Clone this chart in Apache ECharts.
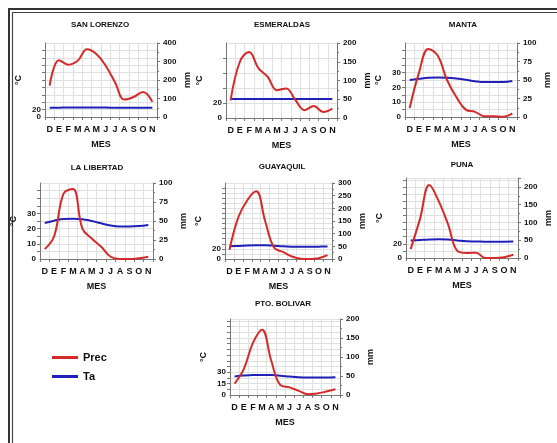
<!DOCTYPE html>
<html>
<head>
<meta charset="utf-8">
<script src="https://cdn.jsdelivr.net/npm/echarts@6/dist/echarts.min.js"></script>
<style>
html,body{margin:0;padding:0;background:#fff;}
#c{width:557px;height:443px;}
</style>
</head>
<body>
<div id="c"></div>
<script>
// ---- data ----
const MONTHS = ['D','E','F','M','A','M','J','J','A','S','O','N'];
const STATIONS = ['SAN LORENZO','ESMERALDAS','MANTA','LA LIBERTAD','GUAYAQUIL','PUNA','PTO. BOLIVAR'];

const precSanLorenzo = [170, 307, 283, 304, 366, 340, 277, 188, 94, 108, 135, 82];
const precEsmeraldas = [47, 150, 176, 133, 110, 74, 79, 48, 21, 32, 16, 25];
const precManta      = [12, 60, 92, 83, 50, 27, 10, 7, 1, 1, 0.5, 5];
const precLaLibertad = [13, 30, 86, 92, 40, 27, 16, 3, 0, 0, 1, 3];
const precGuayaquil  = [36, 165, 232, 267, 150, 45, 28, 10, 1, 0, 3, 15];
const precPuna       = [25, 110, 205, 160, 95, 20, 14, 15, 0, 0, 2, 9];
const precPtoBolivar = [30, 68, 137, 172, 90, 26, 20, 11, 2, 4, 9, 15];

const taSanLorenzo = [25.0, 25.2, 25.6, 25.6, 25.6, 25.6, 25.4, 25.2, 25.0, 25.0, 25.0, 25.0];
const taEsmeraldas = [25.4, 25.4, 25.4, 25.5, 25.5, 25.4, 25.4, 25.3, 25.3, 25.3, 25.3, 25.3];
const taManta      = [25.0, 25.8, 26.5, 26.7, 26.5, 26.0, 25.2, 24.2, 23.6, 23.6, 23.7, 24.4];
const taLaLibertad = [23.7, 25.2, 26.3, 26.4, 26.2, 25.0, 23.5, 22.0, 21.4, 21.4, 21.7, 22.4];
const taGuayaquil  = [25.0, 25.8, 26.8, 27.0, 27.0, 26.2, 25.0, 24.4, 24.2, 24.2, 24.4, 24.8];
const taPuna       = [24.6, 25.3, 26.0, 26.4, 26.0, 24.6, 23.4, 23.2, 23.0, 23.0, 23.0, 23.2];
const taPtoBolivar = [24.5, 25.5, 26.2, 26.4, 26.2, 25.4, 24.2, 23.2, 22.9, 22.9, 23.0, 23.4];

const PREC = [precSanLorenzo, precEsmeraldas, precManta, precLaLibertad, precGuayaquil, precPuna, precPtoBolivar];
const TA   = [taSanLorenzo, taEsmeraldas, taManta, taLaLibertad, taGuayaquil, taPuna, taPtoBolivar];

// axis ticks
const MM_MAX  = [400, 200, 100, 100, 300, 225, 200];
const MM_STEP = [100, 50, 25, 25, 50, 50, 50];
const C_STEP  = [20, 20, 5, 5, 10, 10, 7.5];
const C_LABELS = [[0,20],[0,20],[0,10,20,30],[0,10,20,30],[0,20],[0,20],[0,15,30]];

// ---- layout ----
const GRIDS = [
  {left:45,  top:43,  width:112, height:74},
  {left:226, top:43,  width:111, height:75},
  {left:405, top:43,  width:112, height:74},
  {left:40,  top:183, width:113, height:76},
  {left:225, top:183, width:107, height:76},
  {left:406, top:178, width:112, height:80},
  {left:230, top:319, width:110, height:76}
];
const TITLE_POS = [[100,25],[282,25],[463,25],[97,168],[282,167],[462,165],[283,304]];

const FONT = "'Liberation Sans', Arial, sans-serif";
const RED = '#d62a2a', BLUE = '#2020b8', AX = '#777', GRID = '#e0e0e0';
const LBL = {fontSize:8, fontWeight:'bold', color:'#111', fontFamily:FONT};

const xAxes = [], yAxes = [], series = [], graphics = [];
GRIDS.forEach((g, i) => {
  xAxes.push({
    type:'category', gridIndex:i, data:MONTHS, boundaryGap:true,
    axisLine:{lineStyle:{color:AX, width:1}},
    axisTick:{show:true, length:3, lineStyle:{color:AX}},
    axisLabel:{interval:0, fontSize:9, fontWeight:'bold', color:'#111', fontFamily:FONT, margin:8},
    splitLine:{show:true, lineStyle:{color:GRID, width:1}},
    name:'MES', nameLocation:'middle', nameGap:23,
    nameTextStyle:{fontSize:9, fontWeight:'bold', color:'#111', fontFamily:FONT}
  });
  const labs = C_LABELS[i].filter(v => v !== 0);
  const cMax = MM_MAX[i] / 2;
  // main temperature axis (labels above zero)
  yAxes.push({
    type:'value', gridIndex:i, position:'left', min:0, max:cMax, interval:C_STEP[i],
    axisLine:{show:true, lineStyle:{color:AX}},
    axisTick:{show:true, length:3, lineStyle:{color:AX}},
    axisLabel:Object.assign({margin:4, showMinLabel:false, showMaxLabel:false,
      formatter:v => labs.some(l => Math.abs(l - v) < 1e-6) ? String(v) : ''}, LBL),
    splitLine:{show:true, lineStyle:{color:GRID, width:1}},
    name:'°C', nameLocation:'middle', nameGap:22, nameRotate:90,
    nameTextStyle:{fontSize:9, fontWeight:'bold', color:'#111', fontFamily:FONT}
  });
  const step = MM_STEP[i];
  // precipitation axis
  yAxes.push({
    type:'value', gridIndex:i, position:'right', min:0, max:MM_MAX[i], interval:step,
    axisLine:{show:true, lineStyle:{color:AX}},
    axisTick:{show:true, length:3, lineStyle:{color:AX}},
    minorTick:{show:true, splitNumber:2, length:2, lineStyle:{color:AX}},
    axisLabel:Object.assign({margin:6, formatter:v => (v % step === 0) ? String(v) : ''}, LBL),
    splitLine:{show:false},
    name:'mm', nameLocation:'middle', nameGap:26, nameRotate:90,
    nameTextStyle:{fontSize:9, fontWeight:'bold', color:'#111', fontFamily:FONT}
  });
  // temperature axis carrying only the "0" label
  yAxes.push({
    type:'value', gridIndex:i, position:'left', min:0, max:cMax, interval:C_STEP[i],
    axisLine:{show:false}, axisTick:{show:false}, splitLine:{show:false},
    axisLabel:Object.assign({margin:4, showMinLabel:true, showMaxLabel:false,
      formatter:v => (Math.abs(v) < 1e-9) ? '0' : ''}, LBL)
  });
  series.push({
    name:'Ta', type:'line', xAxisIndex:i, yAxisIndex:3*i, data:TA[i],
    smooth:0.4, showSymbol:false, symbol:'none', lineStyle:{color:BLUE, width:2}, itemStyle:{color:BLUE}, z:2
  });
  series.push({
    name:'Prec', type:'line', xAxisIndex:i, yAxisIndex:3*i+1, data:PREC[i],
    smooth:0.4, showSymbol:false, symbol:'none', lineStyle:{color:RED, width:2}, itemStyle:{color:RED}, z:3
  });
  graphics.push({
    type:'text', x:TITLE_POS[i][0], y:TITLE_POS[i][1],
    style:{text:STATIONS[i], textAlign:'center', textVerticalAlign:'middle',
      font:"bold 8px " + FONT, fill:'#111'}
  });
});

// frame (double border)
graphics.push({type:'polyline', shape:{points:[[9,443],[9,9],[557,9]]}, style:{stroke:'#333', lineWidth:2, fill:null}});
graphics.push({type:'polyline', shape:{points:[[12.5,443],[12.5,12.5],[557,12.5]]}, style:{stroke:'#444', lineWidth:1.2, fill:null}});

const chart = echarts.init(document.getElementById('c'), null, {renderer:'canvas'});
chart.setOption({
  animation:false,
  backgroundColor:'#fff',
  grid: GRIDS.map(g => Object.assign({containLabel:false}, g)),
  xAxis: xAxes,
  yAxis: yAxes,
  series: series,
  legend:{
    data:['Prec','Ta'], orient:'vertical', left:52, top:352, padding:0,
    icon:'rect', itemWidth:26, itemHeight:3, itemGap:8,
    textStyle:{fontSize:11, fontWeight:'bold', color:'#111', fontFamily:FONT}
  },
  graphic: graphics
});
</script>
</body>
</html>
